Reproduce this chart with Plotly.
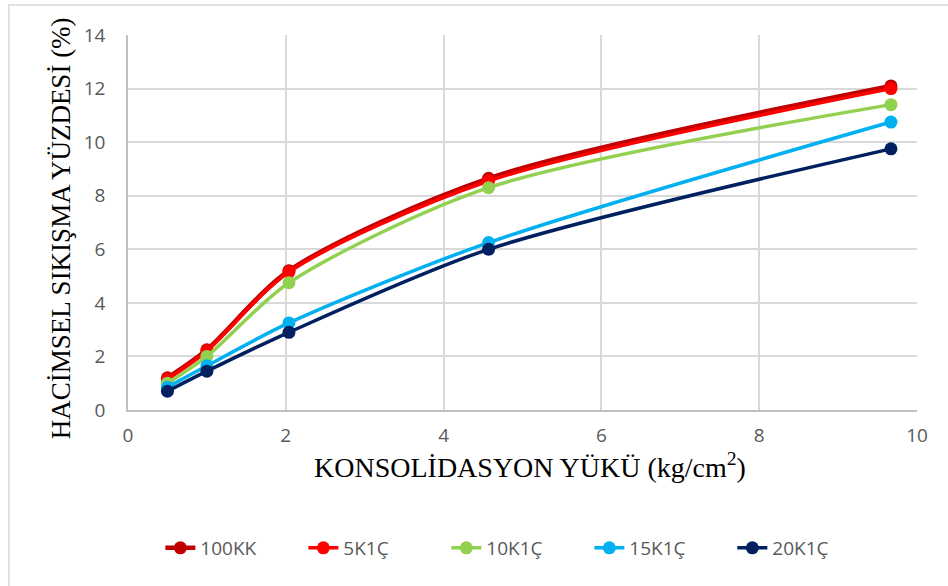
import plotly.graph_objects as go

# Consolidation load (kg/cm2) and volumetric compression (%) per mix
load = [0.5, 1.0, 2.04, 4.57, 9.67]
series_names = ["100KK", "5K1Ç", "10K1Ç", "15K1Ç", "20K1Ç"]
v_100kk = [1.2, 2.25, 5.2, 8.65, 12.1]
v_5k1c = [1.15, 2.2, 5.15, 8.55, 12.0]
v_10k1c = [1.0, 2.0, 4.75, 8.3, 11.4]
v_15k1c = [0.85, 1.65, 3.25, 6.25, 10.75]
v_20k1c = [0.7, 1.45, 2.9, 6.0, 9.75]
x_ticks = [0, 2, 4, 6, 8, 10]
y_ticks = [0, 2, 4, 6, 8, 10, 12, 14]
x_title = "KONSOLİDASYON YÜKÜ (kg/cm<sup>2</sup>)"
y_title = "HACİMSEL SIKIŞMA YÜZDESİ (%)"

colors = ["#C00000", "#FF0000", "#92D050", "#00B0F0", "#002060"]
widths = [4.5, 3.5, 3.5, 3.5, 3.5]
values = [v_100kk, v_5k1c, v_10k1c, v_15k1c, v_20k1c]

fig = go.Figure()
for name, vals, col, w in zip(series_names, values, colors, widths):
    fig.add_trace(go.Scatter(
        x=load, y=vals, name=name, mode="lines+markers",
        line=dict(color=col, width=w, shape="spline", smoothing=0.8),
        marker=dict(color=col, size=13),
    ))

tick_font = dict(family="Open Sans, Lato, sans-serif", size=19, color="#595959")
serif = "Liberation Serif, Times New Roman, serif"

fig.update_layout(
    width=948, height=586,
    margin=dict(l=128, r=31, t=35, b=176),
    paper_bgcolor="white", plot_bgcolor="white",
    showlegend=True,
    legend=dict(orientation="h", x=0.041, xanchor="left", y=-0.368, yanchor="middle",
                font=dict(family="Open Sans, Lato, sans-serif", size=19, color="#595959"),
                entrywidth=98, entrywidthmode="pixels", traceorder="normal"),
    shapes=[dict(type="rect", xref="paper", yref="paper",
                 x0=-0.151, y0=-0.6, x1=1.1, y1=1.08,
                 line=dict(color="#D9D9D9", width=1.5), layer="below")],
    annotations=[
        dict(text=x_title, xref="paper", yref="paper", x=0.51, y=-0.1467,
             xanchor="center", yanchor="middle", showarrow=False,
             font=dict(family=serif, size=28, color="#000000")),
        dict(text=y_title, xref="paper", yref="paper", x=-0.0849, y=0.485,
             xanchor="center", yanchor="middle", showarrow=False, textangle=-90,
             font=dict(family=serif, size=27, color="#000000")),
    ],
)
fig.update_xaxes(
    range=[0, 10], tickvals=x_ticks, ticks="", showgrid=True,
    gridcolor="#D9D9D9", gridwidth=1.5, zeroline=False,
    showline=True, linecolor="#BFBFBF", linewidth=1.5,
    tickfont=tick_font, ticklabelstandoff=7,
)
fig.update_yaxes(
    range=[0, 14], tickvals=y_ticks, ticks="", showgrid=True,
    gridcolor="#D9D9D9", gridwidth=1.5, zeroline=False,
    showline=True, linecolor="#BFBFBF", linewidth=1.5,
    tickfont=tick_font, ticklabelstandoff=17,
)

fig.write_html("out.html")
